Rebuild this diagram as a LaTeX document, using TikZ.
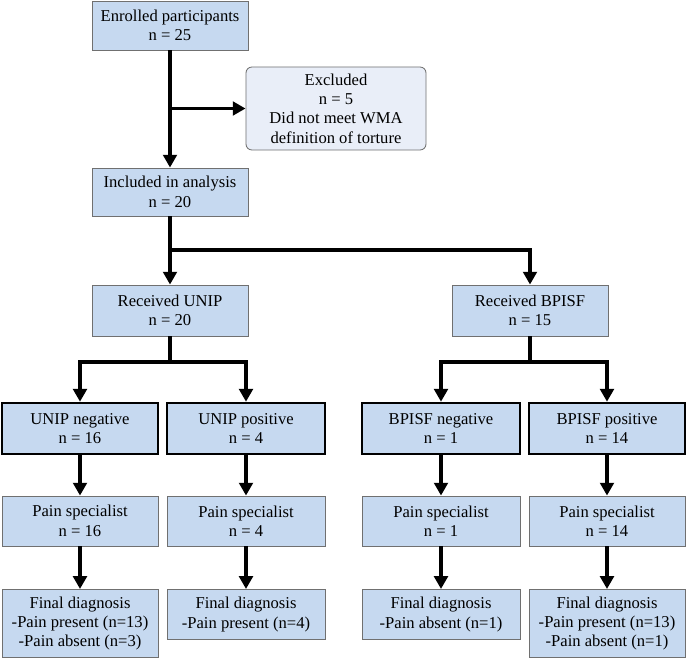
\documentclass[tikz,border=0pt]{standalone}
\usepackage{fontspec}
\setmainfont{Liberation Serif}
\usepackage{xcolor}
\usepackage{tikz}
\usetikzlibrary{arrows.meta}
\definecolor{cBox}{HTML}{C6D9F0}
\definecolor{cExc}{HTML}{E9EEF8}
\definecolor{cEdge}{HTML}{707070}
\tikzset{
  box/.style={draw=cEdge,line width=0.6pt,fill=cBox,align=center,inner sep=1pt,
    minimum width=3.9cm,minimum height=1.25cm,
    font=\fontsize{11.8pt}{13.8pt}\selectfont},
  boldbox/.style={box,draw=black,line width=1.8pt},
  exbox/.style={box,fill=cExc,rounded corners=0.15cm,minimum width=4.5cm,minimum height=2.075cm},
  link/.style={line width=2.5pt,-{Triangle[length=0.32cm,width=0.34cm]}},
  plain/.style={line width=2.5pt}
}

\begin{document}
\begin{tikzpicture}[x=0.025cm,y=-0.025cm]
  \useasboundingbox (0,0) rectangle (687,658);
  % top part
  \node[box,minimum height=1.225cm] (enrol) at (170,25.5) {Enrolled participants\\n = 25};
  \node[exbox] (excl) at (336,108.5) {Excluded\\n = 5\\Did not meet WMA\\definition of torture};
  \node[box,minimum height=1.2cm] (incl) at (170,192) {Included in analysis\\n = 20};
  \node[box,minimum height=1.275cm] (recU) at (170,310.5) {Received UNIP\\n = 20};
  \node[box,minimum height=1.275cm] (recB) at (530,310.5) {Received BPISF\\n = 15};
  % screening results
  \node[boldbox,minimum height=1.275cm] (uneg) at (80,428.5) {UNIP negative\\n = 16};
  \node[boldbox,minimum height=1.275cm,minimum width=3.95cm] (upos) at (246,428.5) {UNIP positive\\n = 4};
  \node[boldbox,minimum height=1.275cm,minimum width=3.95cm] (bneg) at (441,428.5) {BPISF negative\\n = 1};
  \node[boldbox,minimum height=1.275cm] (bpos) at (607,428.5) {BPISF positive\\n = 14};
  % pain specialist
  \node[box] (puneg) at (80,521) {Pain specialist\\n = 16};
  \node[box,minimum width=3.95cm] (pupos) at (246,521) {Pain specialist\\n = 4};
  \node[box,minimum width=3.95cm] (pbneg) at (441,521) {Pain specialist\\n = 1};
  \node[box] (pbpos) at (607,521) {Pain specialist\\n = 14};
  % final diagnosis
  \node[box,anchor=north,minimum height=1.7cm] (funeg) at (80,589) {Final diagnosis\\-Pain present (n=13)\\-Pain absent (n=3)};
  \node[box,anchor=north,minimum width=3.95cm] (fupos) at (246,589) {Final diagnosis\\-Pain present (n=4)};
  \node[box,anchor=north,minimum width=3.95cm] (fbneg) at (441,589) {Final diagnosis\\-Pain absent (n=1)};
  \node[box,anchor=north,minimum height=1.7cm] (fbpos) at (607,589) {Final diagnosis\\-Pain present (n=13)\\-Pain absent (n=1)};
  % split points
  \coordinate (split) at (170,250);
  \coordinate (usplit) at (170,362);
  \coordinate (bsplit) at (530,362);
  % connectors
  \draw[link] (enrol.south) -- (incl.north);
  \draw[link] (enrol.south |- excl.west) -- (excl.west);
  \draw[plain] (incl.south) -- (split);
  \draw[link] (split) -- (recU.north);
  \draw[link] (split) -| (recB.north);
  \draw[plain] (recU.south) -- (usplit);
  \draw[link] (usplit) -| (uneg.north);
  \draw[link] (usplit) -| (upos.north);
  \draw[plain] (recB.south) -- (bsplit);
  \draw[link] (bsplit) -| (bneg.north);
  \draw[link] (bsplit) -| (bpos.north);
  \foreach \a/\b in {uneg/puneg,upos/pupos,bneg/pbneg,bpos/pbpos,
                     puneg/funeg,pupos/fupos,pbneg/fbneg,pbpos/fbpos}
    \draw[link] (\a.south) -- (\b.north);
\end{tikzpicture}
\end{document}
